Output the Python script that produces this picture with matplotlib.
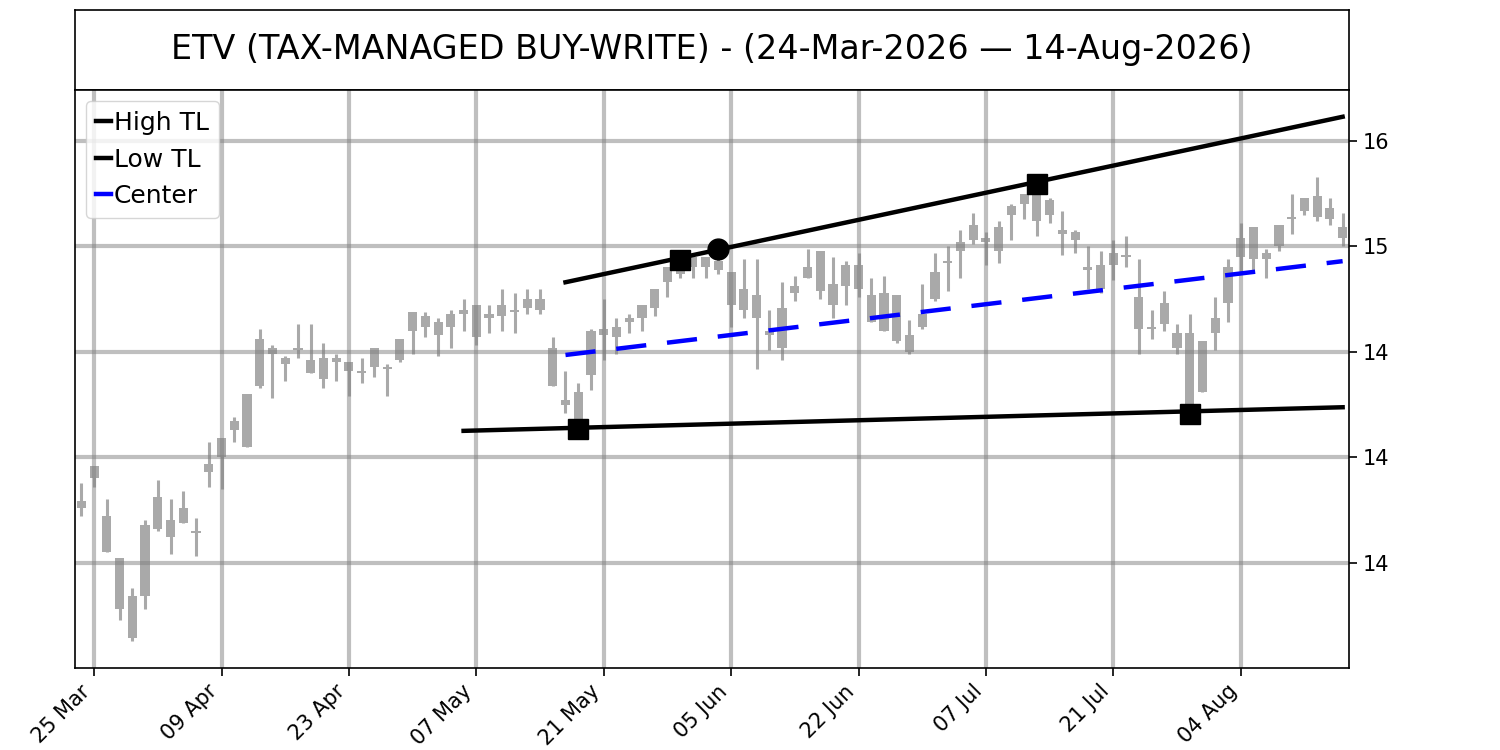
import matplotlib
matplotlib.use("Agg")
import matplotlib.pyplot as plt
from matplotlib.ticker import FixedLocator, FormatStrFormatter

# ---- data ----
opens = [13.76, 13.96, 13.72, 13.52, 13.34, 13.34, 13.66, 13.70, 13.69, 13.65,
         13.93, 14.00, 14.13, 14.05, 14.34, 14.52, 14.47, 14.51, 14.46, 14.37,
         14.47, 14.45, 14.41, 14.43, 14.43, 14.46, 14.60, 14.67, 14.58, 14.62,
         14.68, 14.72, 14.66, 14.67, 14.70, 14.71, 14.75, 14.52, 14.27, 14.16,
         14.39, 14.61, 14.57, 14.64, 14.66, 14.71, 14.83, 14.92, 14.90, 14.95,
         14.89, 14.88, 14.70, 14.77, 14.60, 14.71, 14.78, 14.90, 14.98, 14.82,
         14.81, 14.91, 14.77, 14.78, 14.77, 14.58, 14.62, 14.75, 14.92, 14.98,
         15.03, 15.04, 14.98, 15.15, 15.20, 15.27, 15.15, 15.08, 15.07, 14.90,
         14.91, 14.91, 14.96, 14.76, 14.62, 14.63, 14.59, 14.59, 14.31, 14.59,
         14.73, 14.95, 15.09, 14.94, 15.00, 15.13, 15.17, 15.24, 15.13, 15.09]
highs = [13.88, 13.96, 13.80, 13.52, 13.38, 13.70, 13.89, 13.80, 13.84, 13.71,
         14.07, 14.09, 14.19, 14.30, 14.61, 14.53, 14.48, 14.63, 14.63, 14.54,
         14.49, 14.45, 14.47, 14.52, 14.44, 14.56, 14.69, 14.69, 14.66, 14.70,
         14.75, 14.72, 14.72, 14.80, 14.78, 14.80, 14.80, 14.57, 14.41, 14.35,
         14.61, 14.75, 14.66, 14.68, 14.72, 14.80, 14.90, 14.94, 14.95, 14.95,
         14.99, 14.88, 14.94, 14.94, 14.70, 14.83, 14.86, 14.99, 14.98, 14.95,
         14.93, 14.97, 14.85, 14.86, 14.77, 14.65, 14.82, 14.97, 15.00, 15.08,
         15.16, 15.07, 15.12, 15.20, 15.25, 15.30, 15.23, 15.17, 15.08, 15.00,
         14.98, 15.03, 15.05, 14.94, 14.70, 14.79, 14.63, 14.68, 14.55, 14.76,
         14.94, 15.11, 15.09, 14.99, 15.10, 15.25, 15.23, 15.33, 15.23, 15.16]
lows = [13.72, 13.86, 13.55, 13.23, 13.13, 13.28, 13.65, 13.54, 13.69, 13.53,
        13.86, 13.85, 14.07, 14.05, 14.33, 14.28, 14.36, 14.47, 14.40, 14.33,
        14.36, 14.29, 14.35, 14.38, 14.29, 14.45, 14.49, 14.57, 14.48, 14.52,
        14.60, 14.53, 14.59, 14.60, 14.59, 14.68, 14.68, 14.34, 14.21, 14.135,
        14.32, 14.46, 14.49, 14.59, 14.60, 14.67, 14.76, 14.85, 14.85, 14.85,
        14.87, 14.62, 14.66, 14.42, 14.51, 14.46, 14.74, 14.85, 14.75, 14.66,
        14.72, 14.76, 14.64, 14.60, 14.54, 14.49, 14.61, 14.74, 14.79, 14.85,
        15.01, 14.91, 14.92, 15.03, 15.13, 15.05, 15.11, 14.96, 14.97, 14.80,
        14.78, 14.84, 14.90, 14.49, 14.56, 14.60, 14.49, 14.21, 14.31, 14.51,
        14.64, 14.88, 14.88, 14.85, 14.98, 15.06, 15.15, 15.12, 15.10, 15.00]
closes = [13.79, 13.90, 13.55, 13.28, 13.14, 13.68, 13.81, 13.62, 13.76, 13.64,
          13.97, 14.09, 14.17, 14.30, 14.56, 14.49, 14.44, 14.52, 14.40, 14.47,
          14.45, 14.41, 14.40, 14.52, 14.42, 14.56, 14.69, 14.62, 14.64, 14.68,
          14.70, 14.57, 14.68, 14.72, 14.69, 14.75, 14.70, 14.34, 14.25, 14.31,
          14.60, 14.58, 14.62, 14.66, 14.72, 14.80, 14.90, 14.87, 14.95, 14.90,
          14.93, 14.72, 14.80, 14.66, 14.58, 14.52, 14.81, 14.85, 14.79, 14.72,
          14.91, 14.80, 14.64, 14.60, 14.55, 14.50, 14.68, 14.88, 14.93, 15.02,
          15.10, 15.02, 15.09, 15.19, 15.25, 15.12, 15.22, 15.06, 15.03, 14.89,
          14.80, 14.97, 14.95, 14.61, 14.61, 14.73, 14.52, 14.25, 14.55, 14.66,
          14.90, 15.04, 14.94, 14.97, 15.10, 15.14, 15.23, 15.14, 15.18, 15.04]

tick_pos = [1, 11, 21, 31, 41, 51, 61, 71, 81, 91]
tick_labels = ["25 Mar", "09 Apr", "23 Apr", "07 May", "21 May",
               "05 Jun", "22 Jun", "07 Jul", "21 Jul", "04 Aug"]
y_ticks = [13.5, 14.0, 14.5, 15.0, 15.5]

high_tl_x = [38, 99]
high_tl_y = [14.83, 15.615]
low_tl_x = [30, 99]
low_tl_y = [14.125, 14.237]
center_x = [38, 99]
center_y = [14.485, 14.93]

pivot_x = [39, 47, 75, 87]
pivot_y = [14.135, 14.935, 15.295, 14.206]
touch_x = [50]
touch_y = [14.99]

title = "ETV (TAX-MANAGED BUY-WRITE) - (24-Mar-2026 \u2014 14-Aug-2026)"

# ---- figure ----
W, H = 1500, 750
fig = plt.figure(figsize=(15, 7.5), dpi=100)
ax_t = fig.add_axes([75 / W, (H - 90) / H, 1274 / W, 80 / H])
ax = fig.add_axes([75 / W, (H - 668) / H, 1274 / W, 578 / H])

for a in (ax_t, ax):
    for s in a.spines.values():
        s.set_linewidth(1.2)

ax_t.set_xticks([])
ax_t.set_yticks([])
ax_t.text(0.5, 0.5, title, ha="center", va="center", fontsize=24,
          transform=ax_t.transAxes)

candle_color = "#a9a9a9"
xs = list(range(len(opens)))
ax.vlines(xs, lows, highs, color=candle_color, lw=2.2, zorder=1)
bottoms = [min(o, c) for o, c in zip(opens, closes)]
heights = [abs(c - o) for o, c in zip(opens, closes)]
ax.bar(xs, heights, bottom=bottoms, width=0.72, color=candle_color,
       zorder=1, linewidth=0)

ax.plot(high_tl_x, high_tl_y, color="black", lw=3.2, label="High TL", zorder=3)
ax.plot(low_tl_x, low_tl_y, color="black", lw=3.2, label="Low TL", zorder=3)
ax.plot(center_x, center_y, color="blue", lw=3.2, linestyle=(0, (6.8, 4.7)),
        label="Center", zorder=3)
ax.plot(pivot_x, pivot_y, linestyle="none", marker="s", ms=15,
        color="black", zorder=4)
ax.plot(touch_x, touch_y, linestyle="none", marker="o", ms=15,
        color="black", zorder=4)

ax.set_xlim(-0.5, 99.5)
ax.set_ylim(13.0, 15.742)
ax.xaxis.set_major_locator(FixedLocator(tick_pos))
ax.set_xticklabels(tick_labels, rotation=45, ha="right", fontsize=15)
ax.yaxis.tick_right()
ax.yaxis.set_major_locator(FixedLocator(y_ticks))
ax.yaxis.set_major_formatter(FormatStrFormatter("%.0f"))
ax.tick_params(axis="y", labelsize=15)
ax.tick_params(length=6, width=1.2)
ax.grid(True, color="gray", alpha=0.5, lw=3)

leg = ax.legend(loc="upper left", fontsize=18, handlelength=0.6,
                handletextpad=0.1, borderpad=0.4, labelspacing=0.5,
                borderaxespad=0.45)
for line in leg.get_lines():
    line.set_linestyle("-")

fig.savefig("out.png", dpi=100)
